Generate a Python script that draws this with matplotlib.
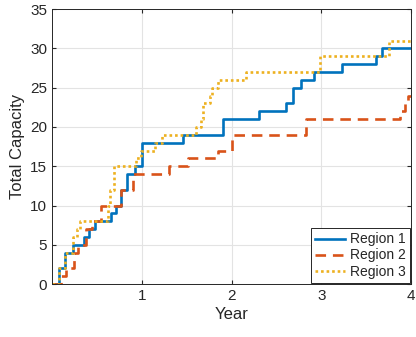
import matplotlib
matplotlib.use("Agg")
import matplotlib.pyplot as plt

plt.rcParams['font.family'] = ['Liberation Sans', 'DejaVu Sans']

# Step change points (year) and capacity values
r1_x = [0, 0.08, 0.15, 0.23, 0.36, 0.41, 0.48, 0.66, 0.71, 0.77, 0.84, 0.92, 1.0,
        1.46, 1.91, 2.31, 2.61, 2.69, 2.77, 2.92, 3.23, 3.61, 3.68]
r1_y = [0, 2, 4, 5, 6, 7, 8, 9, 10, 12, 14, 15, 18,
        19, 21, 22, 23, 25, 26, 27, 28, 29, 30]

r2_x = [0, 0.1, 0.16, 0.24, 0.29, 0.38, 0.45, 0.55, 0.77, 0.9, 1.3, 1.52, 1.85,
        2.0, 2.83, 3.88, 3.93, 3.97]
r2_y = [0, 1, 2, 4, 5, 7, 8, 10, 12, 14, 15, 16, 17,
        19, 21, 22, 23, 24]

r3_x = [0, 0.08, 0.15, 0.23, 0.28, 0.31, 0.62, 0.65, 0.69, 0.94, 0.99, 1.15, 1.23,
        1.60, 1.66, 1.68, 1.76, 1.78, 1.85, 2.16, 2.99, 3.76]
r3_y = [0, 2, 4, 6, 7, 8, 10, 12, 15, 16, 17, 18, 19,
        20, 21, 23, 24, 25, 26, 27, 29, 31]

labels = ['Region 1', 'Region 2', 'Region 3']
x_end = 4
xticks = [1, 2, 3, 4]
yticks = [0, 5, 10, 15, 20, 25, 30, 35]

fig = plt.figure(figsize=(4.16, 3.37), dpi=100)
ax = fig.add_axes([0.125, 0.157, 0.863, 0.816])

tc = '#262626'
ax.step(r1_x + [x_end], r1_y + [r1_y[-1]], where='post', color='#0072BD', lw=1.9,
        label=labels[0])
ax.step(r2_x + [x_end], r2_y + [r2_y[-1]], where='post', color='#D95319', lw=1.9,
        dashes=(4, 2.6), label=labels[1])
ax.step(r3_x + [x_end], r3_y + [r3_y[-1]], where='post', color='#EDB120', lw=1.9,
        dashes=(1, 1.1), label=labels[2])

ax.set_xlim(0, 4)
ax.set_ylim(0, 35)
ax.set_xticks(xticks)
ax.set_yticks(yticks)
ax.grid(True, color='#E3E3E3', lw=0.8)
ax.set_axisbelow(True)
ax.tick_params(direction='in', length=3, colors=tc, labelsize=11, labelcolor=tc,
               top=True, right=True)
for s in ax.spines.values():
    s.set_color('#262626')
    s.set_linewidth(0.7)
ax.set_xlabel('Year', fontsize=12, color=tc, labelpad=3)
ax.set_ylabel('Total Capacity', fontsize=12, color=tc, labelpad=4)

leg = ax.legend(loc='lower right', fontsize=10, handlelength=2.2, handletextpad=0.3,
                borderpad=0.3, labelspacing=0.15, fancybox=False, framealpha=1,
                edgecolor='#262626', borderaxespad=0.1)
leg.get_frame().set_linewidth(0.7)
for t in leg.get_texts():
    t.set_color(tc)

fig.savefig('out.png', dpi=100)
